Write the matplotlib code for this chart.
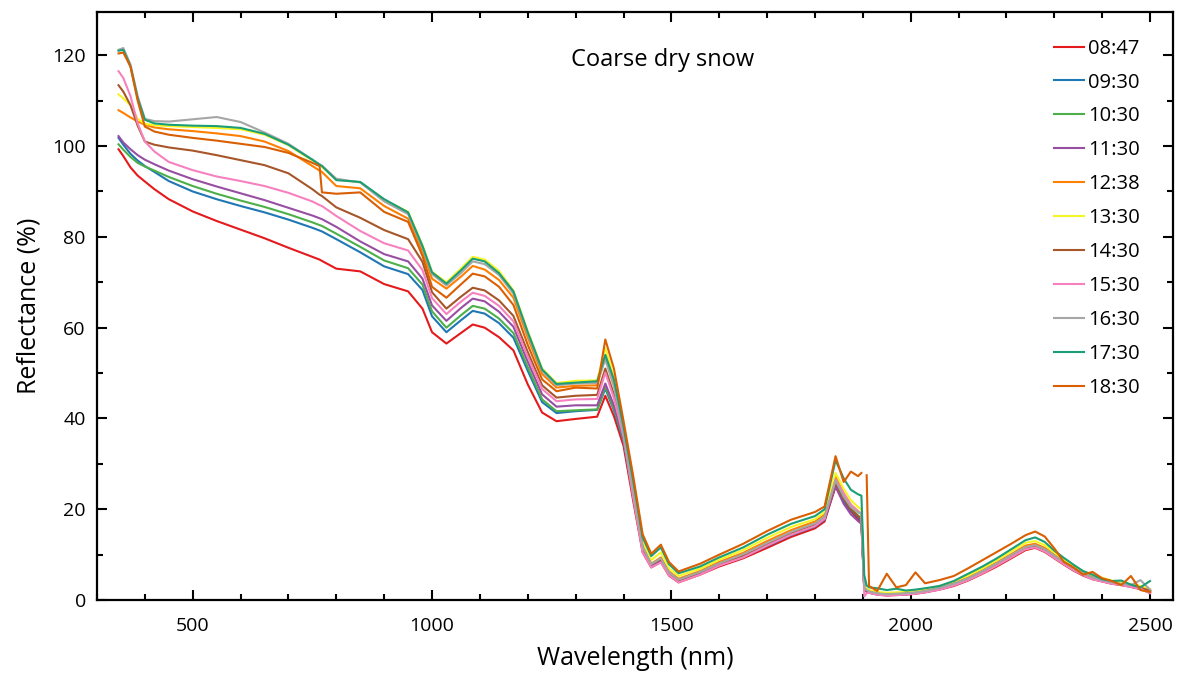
import numpy as np
import matplotlib.pyplot as plt
from matplotlib.ticker import MultipleLocator

# Wavelength grid (nm) shared by all spectra
wavelength = [345, 355, 370, 385, 400, 420, 450, 500, 550, 600, 650, 700, 750, 765, 770,
              800, 850, 900, 950, 980, 1000, 1030, 1060, 1085, 1110, 1140, 1170, 1200, 1230,
              1260, 1300, 1345, 1362, 1380, 1400, 1420, 1440, 1458, 1478, 1495, 1515, 1560,
              1600, 1650, 1700, 1750, 1800, 1820, 1843, 1860, 1875, 1890, 1897, 1903, 1908,
              1913, 1930, 1950, 1970, 1990, 2010, 2030, 2060, 2090, 2120, 2150, 2180, 2210,
              2240, 2260, 2280, 2300, 2320, 2340, 2360, 2380, 2400, 2420, 2440, 2460, 2480, 2500]

# Reflectance (%) for each measurement time
r_0847 = [99.3, 97.8, 95.3, 93.5, 92.2, 90.5, 88.3, 85.6, 83.5, 81.6, 79.7, 77.6, 75.6, 75.0, 74.7,
          73.0, 72.4, 69.6, 68.0, 64.2, 59.0, 56.5, 58.8, 60.7, 60.0, 57.9, 55.0, 47.5, 41.3,
          39.4, 39.9, 40.4, 45.0, 40.5, 34.0, 22.0, 10.5, 7.2, 8.4, 5.4, 3.9, 5.6,
          7.4, 9.2, 11.5, 13.9, 15.8, 17.3, 25.0, 21.5, 19.6, 17.8, 17.2, 2.5, 1.8,
          1.6, 1.2, 1.0, 1.1, 1.2, 1.4, 1.7, 2.3, 3.1, 4.3, 5.8, 7.4, 9.2,
          11.0, 11.5, 10.6, 9.2, 7.8, 6.5, 5.4, 4.6, 4.1, 3.6, 3.3, 2.9, 2.4, 1.6]
r_0930 = [101.8, 100.3, 98.3, 96.8, 95.6, 94.3, 92.3, 90.0, 88.3, 86.8, 85.4, 83.8, 82.0, 81.4, 81.2,
          79.5, 76.6, 73.5, 71.8, 68.3, 62.5, 59.0, 61.6, 63.7, 63.1, 61.0, 57.8, 50.5, 43.6,
          41.2, 41.6, 41.9, 46.6, 41.8, 35.0, 23.0, 11.2, 7.5, 8.7, 5.7, 4.1, 5.8,
          7.7, 9.5, 11.9, 14.3, 16.2, 17.7, 25.4, 22.0, 19.8, 18.3, 17.6, 2.4, 1.9,
          1.7, 1.3, 1.1, 1.2, 1.3, 1.5, 1.8, 2.4, 3.3, 4.5, 6.0, 7.7, 9.5,
          11.3, 11.7, 10.8, 9.4, 8.0, 6.7, 5.6, 4.7, 4.2, 3.7, 3.4, 3.0, 2.5, 1.8]
r_1030 = [100.4, 99.2, 97.6, 96.3, 95.5, 94.6, 93.2, 91.2, 89.5, 88.0, 86.6, 85.0, 83.2, 82.6, 82.4,
          80.7, 77.8, 74.8, 73.1, 69.5, 63.6, 60.0, 62.7, 64.8, 64.2, 62.0, 58.8, 51.3, 44.2,
          41.6, 41.8, 42.0, 47.0, 42.2, 35.3, 23.3, 11.4, 7.7, 8.9, 5.9, 4.3, 6.0,
          7.9, 9.8, 12.2, 14.6, 16.5, 18.0, 25.8, 22.4, 20.2, 18.6, 18.0, 2.6, 2.0,
          1.8, 1.4, 1.2, 1.3, 1.4, 1.6, 1.9, 2.6, 3.5, 4.7, 6.3, 8.0, 9.8,
          11.6, 12.0, 11.1, 9.7, 8.2, 6.9, 5.8, 4.9, 4.3, 3.8, 3.5, 3.1, 2.7, 2.0]
r_1130 = [102.2, 100.8, 99.3, 98.0, 97.0, 96.0, 94.6, 92.7, 91.1, 89.6, 88.1, 86.4, 84.7, 84.1, 83.9,
          82.2, 79.0, 76.2, 74.6, 70.8, 64.9, 61.5, 64.3, 66.4, 65.8, 63.5, 60.2, 52.5, 45.3,
          42.6, 42.9, 42.9, 47.7, 42.9, 35.6, 23.5, 11.5, 7.6, 8.8, 5.8, 4.2, 5.9,
          7.8, 9.7, 12.1, 14.5, 16.4, 17.8, 25.1, 21.2, 18.9, 17.4, 16.8, 2.3, 1.9,
          1.7, 1.3, 1.1, 1.2, 1.3, 1.5, 1.8, 2.4, 3.3, 4.5, 6.1, 7.8, 9.6,
          11.4, 11.8, 10.9, 9.5, 8.1, 6.8, 5.7, 4.8, 4.2, 3.7, 3.4, 3.0, 2.6, 1.9]
r_1238 = [107.9, 107.3, 106.3, 105.4, 104.7, 104.1, 103.7, 103.3, 102.8, 102.2, 101.0, 98.9, 95.6, 94.6, 94.3,
          91.2, 90.7, 86.8, 84.0, 76.8, 70.8, 68.6, 71.2, 73.6, 72.8, 70.5, 66.6, 57.8, 49.8,
          46.8, 47.2, 47.3, 54.0, 47.8, 37.0, 24.5, 12.0, 8.0, 9.4, 6.3, 4.7, 6.4,
          8.4, 10.4, 13.0, 15.4, 17.3, 18.8, 27.2, 23.5, 21.0, 19.6, 19.0, 2.8, 2.3,
          2.0, 1.6, 1.4, 1.5, 1.6, 1.8, 2.1, 2.8, 3.8, 5.0, 6.6, 8.3, 10.1,
          12.0, 12.4, 11.5, 10.0, 8.6, 7.2, 6.1, 5.2, 4.6, 4.0, 3.7, 3.3, 2.9, 2.2]
r_1330 = [111.4, 110.5, 109.0, 106.0, 104.9, 104.6, 104.4, 104.2, 104.0, 103.7, 102.5, 100.2, 96.8, 95.7, 95.4,
          92.6, 92.0, 88.2, 85.5, 78.2, 72.3, 70.0, 73.0, 75.6, 75.0, 72.5, 68.2, 59.2, 51.0,
          47.8, 48.3, 48.4, 55.5, 49.2, 38.0, 26.0, 13.0, 8.8, 10.5, 7.0, 5.3, 6.9,
          8.9, 11.0, 13.7, 16.1, 17.8, 19.4, 28.0, 24.5, 22.0, 20.5, 20.0, 3.0, 2.5,
          2.2, 1.8, 1.6, 1.7, 1.8, 2.0, 2.4, 3.1, 4.1, 5.4, 7.0, 8.8, 10.7,
          12.6, 13.0, 12.1, 10.5, 9.0, 7.6, 6.4, 5.5, 4.9, 4.3, 3.9, 3.5, 3.1, 2.4]
r_1430 = [113.4, 112.0, 109.0, 104.5, 101.0, 100.3, 99.7, 99.0, 98.0, 96.9, 95.8, 94.0, 90.5, 89.3, 89.0,
          86.5, 84.2, 81.5, 79.5, 74.5, 67.8, 64.2, 66.8, 68.8, 68.2, 66.0, 62.6, 54.6, 47.3,
          44.6, 45.0, 45.2, 51.0, 45.3, 36.3, 23.7, 11.6, 7.8, 9.0, 6.0, 4.4, 6.1,
          8.0, 9.9, 12.4, 14.8, 16.7, 18.2, 26.0, 22.4, 20.0, 18.5, 18.0, 2.6, 2.1,
          1.8, 1.4, 1.2, 1.3, 1.4, 1.6, 1.9, 2.6, 3.5, 4.7, 6.2, 7.9, 9.7,
          11.5, 11.9, 11.0, 9.6, 8.2, 6.9, 5.8, 4.9, 4.3, 3.8, 3.5, 3.1, 2.7, 2.1]
r_1530 = [116.5, 115.0, 111.0, 105.0, 101.0, 98.8, 96.5, 94.7, 93.3, 92.3, 91.2, 89.7, 87.8, 87.0, 86.8,
          84.6, 81.3, 78.6, 77.0, 72.7, 66.5, 63.0, 65.7, 67.7, 67.0, 64.8, 61.4, 53.6, 46.5,
          43.8, 44.2, 44.3, 50.1, 44.5, 36.0, 22.8, 10.5, 7.2, 8.3, 5.5, 3.9, 5.6,
          7.6, 9.4, 12.0, 14.4, 16.3, 17.9, 26.6, 23.5, 21.0, 19.5, 19.0, 0.8, 1.5,
          1.6, 1.2, 1.0, 1.1, 1.2, 1.4, 1.7, 2.3, 3.2, 4.4, 5.9, 7.6, 9.4,
          11.2, 11.6, 10.7, 9.3, 7.9, 6.6, 5.5, 4.6, 4.1, 3.6, 3.3, 2.9, 2.5, 1.5]
r_1630 = [121.2, 121.6, 118.0, 111.0, 106.0, 105.5, 105.4, 105.9, 106.4, 105.3, 103.0, 100.5, 97.0, 96.0, 95.7,
          92.8, 92.0, 87.8, 85.0, 77.6, 71.8, 69.3, 72.0, 74.6, 74.0, 71.6, 67.5, 58.6, 50.5,
          47.3, 47.7, 47.8, 53.0, 47.0, 36.8, 24.2, 11.8, 7.9, 9.2, 6.1, 4.5, 6.2,
          8.1, 10.1, 12.6, 15.0, 16.9, 18.4, 26.4, 22.8, 20.5, 19.3, 19.0, 2.7, 2.2,
          1.9, 1.5, 1.3, 1.4, 1.5, 1.7, 2.0, 2.7, 3.6, 4.8, 6.4, 8.1, 9.9,
          11.7, 12.1, 11.2, 9.8, 8.4, 7.0, 5.9, 5.0, 4.4, 3.9, 3.6, 3.3, 4.4, 2.3]
r_1730 = [121.0, 121.2, 117.5, 110.5, 105.8, 105.0, 104.7, 104.5, 104.4, 104.0, 102.7, 100.3, 97.0, 95.9, 95.6,
          92.5, 92.1, 88.3, 85.4, 78.0, 72.2, 69.7, 72.6, 75.2, 74.6, 72.0, 68.0, 59.0, 50.8,
          47.6, 47.9, 48.2, 54.0, 48.6, 38.3, 26.5, 13.8, 9.7, 11.6, 7.9, 5.9, 7.4,
          9.4, 11.6, 14.4, 16.8, 18.5, 20.0, 30.8, 26.8, 24.3, 23.3, 23.0, 5.5, 3.2,
          2.8, 2.6, 2.2, 2.5, 2.1, 2.3, 2.6, 3.1, 4.2, 5.8, 7.4, 9.2, 11.2,
          13.2, 13.8, 12.8, 10.9, 9.3, 7.8, 6.4, 5.6, 4.6, 4.2, 4.3, 3.4, 2.8, 4.2]
r_1830 = [120.4, 120.6, 117.5, 110.0, 104.3, 103.2, 102.5, 101.8, 101.2, 100.5, 99.8, 98.5, 96.3, 95.6, 89.8,
          89.5, 89.8, 85.5, 83.3, 75.8, 69.0, 66.6, 69.5, 71.9, 71.3, 69.0, 65.0, 56.2, 48.6,
          46.0, 46.8, 46.6, 57.4, 51.0, 39.5, 27.5, 14.5, 10.2, 12.2, 8.4, 6.3, 8.0,
          10.0, 12.4, 15.2, 17.7, 19.4, 20.6, 31.7, 26.0, 28.3, 27.3, 28.0, np.nan, 27.5,
          3.1, 2.0, 5.8, 2.8, 3.3, 6.1, 3.7, 4.4, 5.3, 7.0, 8.8, 10.6, 12.4,
          14.3, 15.1, 14.0, 11.4, 8.4, 7.2, 5.6, 6.2, 4.8, 4.2, 3.3, 5.3, 2.2, 1.8]

times = ["08:47", "09:30", "10:30", "11:30", "12:38", "13:30",
         "14:30", "15:30", "16:30", "17:30", "18:30"]
spectra = [r_0847, r_0930, r_1030, r_1130, r_1238, r_1330,
           r_1430, r_1530, r_1630, r_1730, r_1830]
colors = ["#e41a1c", "#1f77b4", "#4daf4a", "#984ea3", "#ff7f00", "#f5f523",
          "#a65628", "#f781bf", "#a6a6a6", "#1b9e77", "#d95f02"]

plt.rcParams["font.family"] = ["Open Sans", "DejaVu Sans"]

fig = plt.figure(figsize=(11.77, 6.75), dpi=100)
ax = fig.add_axes([0.0824, 0.111, 0.9142, 0.871])

for t, r, c in zip(times, spectra, colors):
    ax.plot(wavelength, r, color=c, lw=1.5, label=t)

ax.set_xlim(300, 2548)
ax.set_ylim(0, 129.5)
ax.xaxis.set_major_locator(MultipleLocator(500))
ax.xaxis.set_minor_locator(MultipleLocator(100))
ax.yaxis.set_major_locator(MultipleLocator(20))
ax.yaxis.set_minor_locator(MultipleLocator(10))
ax.tick_params(which="both", direction="in", top=True, right=True, width=1.5, labelsize=14)
ax.tick_params(which="major", length=7.5, pad=8)
ax.tick_params(which="minor", length=4)
ax.tick_params(axis="x", which="major", pad=12)
for s in ax.spines.values():
    s.set_linewidth(1.6)

ax.set_xlabel("Wavelength (nm)", fontsize=18, labelpad=8)
ax.set_ylabel("Reflectance (%)", fontsize=18, labelpad=8)
ax.text(0.526, 0.918, "Coarse dry snow", transform=ax.transAxes,
        ha="center", va="center", fontsize=17)

ax.legend(loc="upper left", bbox_to_anchor=(0.889, 0.955), frameon=False,
          fontsize=14.5, handlelength=1.5, handletextpad=0.2,
          labelspacing=0.69, borderpad=0, borderaxespad=0)

fig.savefig("out.png", dpi=100)
